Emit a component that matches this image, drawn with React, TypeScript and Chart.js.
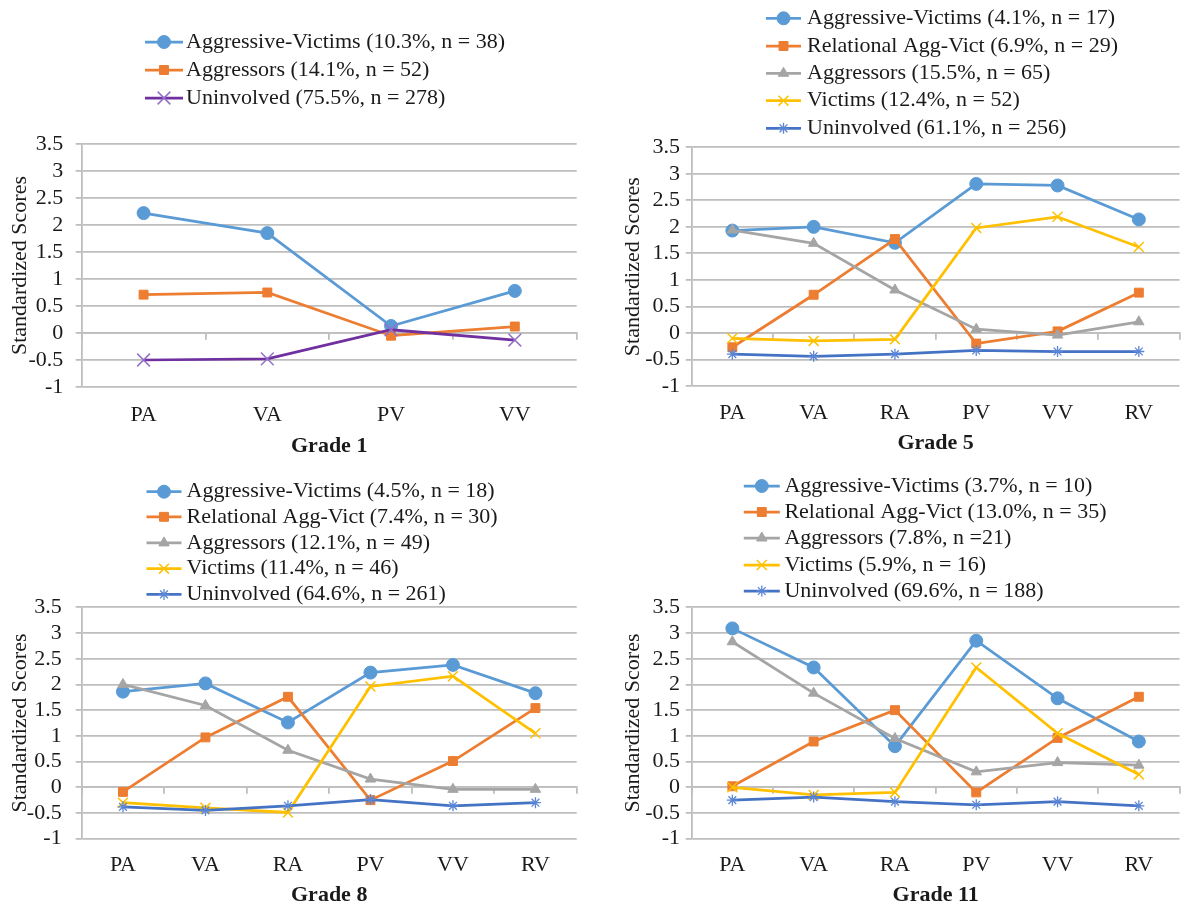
import React, { useEffect, useRef } from 'react';
import { Chart, registerables } from 'chart.js';
import { drawPoint } from 'chart.js/helpers';

Chart.register(...registerables);

const FONT = "'Liberation Serif', 'Times New Roman', Times, serif";
const TEXT = '#1a1a1a';
const GRID = '#BEBEBE';

// ---------- data ----------
const Y_TICKS = [-1, -0.5, 0, 0.5, 1, 1.5, 2, 2.5, 3, 3.5];
const CATS_G1 = ['PA', 'VA', 'PV', 'VV'];
const CATS_6 = ['PA', 'VA', 'RA', 'PV', 'VV', 'RV'];

const G1_LABELS = [
  'Aggressive-Victims (10.3%, n = 38)',
  'Aggressors (14.1%, n = 52)',
  'Uninvolved (75.5%, n = 278)',
];
const G1_AV = [2.22, 1.85, 0.13, 0.78];
const G1_AGG = [0.71, 0.75, -0.05, 0.12];
const G1_UNI = [-0.5, -0.48, 0.06, -0.13];

const G5_LABELS = [
  'Aggressive-Victims (4.1%, n = 17)',
  'Relational Agg-Vict (6.9%, n = 29)',
  'Aggressors (15.5%, n = 65)',
  'Victims (12.4%, n = 52)',
  'Uninvolved (61.1%, n = 256)',
];
const G5_AV = [1.93, 2.0, 1.7, 2.81, 2.78, 2.14];
const G5_REL = [-0.27, 0.72, 1.77, -0.2, 0.03, 0.76];
const G5_AGG = [1.94, 1.69, 0.81, 0.07, -0.04, 0.21];
const G5_VIC = [-0.1, -0.15, -0.12, 1.98, 2.19, 1.62];
const G5_UNI = [-0.4, -0.44, -0.4, -0.33, -0.35, -0.35];

const G8_LABELS = [
  'Aggressive-Victims (4.5%, n = 18)',
  'Relational Agg-Vict (7.4%, n = 30)',
  'Aggressors (12.1%, n = 49)',
  'Victims (11.4%, n = 46)',
  'Uninvolved (64.6%, n = 261)',
];
const G8_AV = [1.86, 2.02, 1.26, 2.23, 2.38, 1.83];
const G8_REL = [-0.09, 0.97, 1.76, -0.25, 0.51, 1.54];
const G8_AGG = [2.0, 1.59, 0.72, 0.16, -0.04, -0.04];
const G8_VIC = [-0.3, -0.4, -0.49, 1.96, 2.16, 1.05];
const G8_UNI = [-0.38, -0.45, -0.36, -0.24, -0.36, -0.3];

const G11_LABELS = [
  'Aggressive-Victims (3.7%, n = 10)',
  'Relational Agg-Vict (13.0%, n = 35)',
  'Aggressors (7.8%, n =21)',
  'Victims (5.9%, n = 16)',
  'Uninvolved (69.6%, n = 188)',
];
const G11_AV = [3.09, 2.33, 0.8, 2.85, 1.73, 0.89];
const G11_REL = [0.02, 0.89, 1.5, -0.1, 0.96, 1.76];
const G11_AGG = [2.83, 1.83, 0.95, 0.3, 0.48, 0.43];
const G11_VIC = [0.0, -0.15, -0.1, 2.33, 1.05, 0.25];
const G11_UNI = [-0.25, -0.19, -0.28, -0.34, -0.28, -0.36];

// ---------- styles ----------
type St = { line: string; point: string; style: any; r: number; bw: number };
const STYLES: Record<string, St> = {
  av: { line: '#5B9BD5', point: '#5B9BD5', style: 'circle', r: 6.5, bw: 1 },
  rel: { line: '#ED7D31', point: '#ED7D31', style: 'rect', r: 6.3, bw: 1 },
  agg: { line: '#A5A5A5', point: '#A5A5A5', style: 'triangle', r: 6, bw: 1 },
  vic: { line: '#FFC000', point: '#FFC000', style: 'crossRot', r: 7, bw: 1.5 },
  uni: { line: '#4472C4', point: '#5B86D6', style: 'star', r: 5.5, bw: 1.3 },
  g1uni: { line: '#7030A0', point: '#9470C8', style: 'crossRot', r: 9, bw: 1.5 },
};

type PanelCfg = {
  left: number; top: number; width: number;
  cats: string[];
  labels: string[];
  series: number[][];
  styles: string[];
  title: string;
  area: { left: number; right: number; top: number; bottom: number };
  labelY: number; titleY: number; yTitleX: number; yTickGap: number;
  legend: { x: number; rows: number[]; len: number; textX: number };
};

const PANELS: PanelCfg[] = [
  {
    left: 0, top: 0, width: 592,
    cats: CATS_G1, labels: G1_LABELS, series: [G1_AV, G1_AGG, G1_UNI], styles: ['av', 'rel', 'g1uni'],
    title: 'Grade 1',
    area: { left: 81.7, right: 576.7, top: 144, bottom: 387 },
    labelY: 415, titleY: 446, yTitleX: 20, yTickGap: 18.4,
    legend: { x: 145, rows: [42, 70, 98], len: 38, textX: 186 },
  },
  {
    left: 592, top: 0, width: 596,
    cats: CATS_6, labels: G5_LABELS, series: [G5_AV, G5_REL, G5_AGG, G5_VIC, G5_UNI],
    styles: ['av', 'rel', 'agg', 'vic', 'uni'],
    title: 'Grade 5',
    area: { left: 691.7, right: 1187.7, top: 147.3, bottom: 386 },
    labelY: 413.3, titleY: 443.3, yTitleX: 633.3, yTickGap: 11.7,
    legend: { x: 766, rows: [18.3, 46, 73.3, 100.7, 128.3], len: 35, textX: 807 },
  },
  {
    left: 0, top: 470, width: 592,
    cats: CATS_6, labels: G8_LABELS, series: [G8_AV, G8_REL, G8_AGG, G8_VIC, G8_UNI],
    styles: ['av', 'rel', 'agg', 'vic', 'uni'],
    title: 'Grade 8',
    area: { left: 81.7, right: 576.7, top: 607.3, bottom: 838.7 },
    labelY: 865, titleY: 895, yTitleX: 20.7, yTickGap: 20,
    legend: { x: 146.5, rows: [491.7, 516.8, 542.9, 568.7, 594.4], len: 35, textX: 186.6 },
  },
  {
    left: 592, top: 470, width: 596,
    cats: CATS_6, labels: G11_LABELS, series: [G11_AV, G11_REL, G11_AGG, G11_VIC, G11_UNI],
    styles: ['av', 'rel', 'agg', 'vic', 'uni'],
    title: 'Grade 11',
    area: { left: 691.7, right: 1187.7, top: 607.3, bottom: 838.7 },
    labelY: 865, titleY: 895, yTitleX: 633.3, yTickGap: 11.7,
    legend: { x: 743.8, rows: [486, 512, 538, 565, 591], len: 36, textX: 784.4 },
  },
];

const X_AXIS_H = 40;
const HALF_LINE = 22 * 1.2 / 2;
const LINE_W = 2.75;

function Panel({ cfg }: { cfg: PanelCfg }) {
  const ref = useRef<HTMLCanvasElement>(null);
  const ox = cfg.left;
  const oy = cfg.top;
  const a = {
    left: cfg.area.left - ox,
    right: cfg.area.right - ox,
    top: cfg.area.top - oy,
    bottom: cfg.area.bottom - oy,
  };
  const labelY = cfg.labelY - oy;
  const titleY = cfg.titleY - oy;
  const H = Math.ceil(titleY + HALF_LINE) + 2;
  const W = cfg.width;

  useEffect(() => {
    const n = cfg.series.length;
    const datasets = cfg.series.map((data, i) => {
      const st = STYLES[cfg.styles[i]];
      return {
        label: cfg.labels[i],
        data,
        borderColor: st.line,
        backgroundColor: st.point,
        pointBackgroundColor: st.point,
        pointBorderColor: st.point,
        pointStyle: st.style,
        pointRadius: st.r,
        pointHoverRadius: st.r,
        pointBorderWidth: st.bw,
        borderWidth: LINE_W,
        tension: 0,
        order: n - i,
      };
    });

    const legendPlugin = {
      id: 'seriesLegend',
      afterDraw(chart: any) {
        const ctx = chart.ctx;
        ctx.save();
        cfg.series.forEach((_, i) => {
          const st = STYLES[cfg.styles[i]];
          const y = cfg.legend.rows[i] - oy;
          const x0 = cfg.legend.x - ox;
          const x1 = x0 + cfg.legend.len;
          ctx.strokeStyle = st.line;
          ctx.lineWidth = LINE_W;
          ctx.beginPath();
          ctx.moveTo(x0, y);
          ctx.lineTo(x1, y);
          ctx.stroke();
          ctx.fillStyle = st.point;
          ctx.strokeStyle = st.point;
          ctx.lineWidth = st.bw;
          drawPoint(ctx, { pointStyle: st.style, rotation: 0, radius: st.r, borderWidth: st.bw } as any, (x0 + x1) / 2, y);
          ctx.fillStyle = TEXT;
          ctx.font = `22px ${FONT}`;
          ctx.textAlign = 'left';
          ctx.textBaseline = 'middle';
          ctx.fillText(cfg.labels[i], cfg.legend.textX - ox, y);
        });
        ctx.restore();
      },
    };

    const chart = new Chart(ref.current as HTMLCanvasElement, {
      type: 'line',
      data: { labels: cfg.cats, datasets: datasets as any },
      plugins: [legendPlugin],
      options: {
        animation: false,
        responsive: false,
        maintainAspectRatio: false,
        events: [],
        layout: {
          padding: {
            left: 0,
            top: a.top,
            right: W - a.right,
            bottom: H - (titleY + HALF_LINE),
          },
        },
        font: { family: FONT, size: 22 },
        color: TEXT,
        plugins: {
          legend: { display: false },
          tooltip: { enabled: false },
          title: {
            display: true,
            text: cfg.title,
            position: 'bottom',
            fullSize: false,
            color: TEXT,
            font: { family: FONT, size: 22, weight: 'bold', lineHeight: 1.2 },
            padding: { top: titleY - a.bottom - X_AXIS_H - HALF_LINE, bottom: 0 },
          },
        },
        scales: {
          x: {
            type: 'category',
            offset: true,
            grid: { display: false, drawTicks: false },
            border: { display: false },
            ticks: {
              color: TEXT,
              font: { family: FONT, size: 22, lineHeight: 1.2 },
              padding: labelY - a.bottom - HALF_LINE,
              maxRotation: 0,
              autoSkip: false,
            },
            afterFit: (s: any) => { s.height = X_AXIS_H; },
          },
          x2: {
            type: 'category',
            axis: 'x',
            position: { y: 0 } as any,
            offset: true,
            grid: {
              display: true,
              drawOnChartArea: false,
              drawTicks: true,
              tickLength: 6,
              offset: true,
              color: GRID,
              lineWidth: 1.8,
            },
            border: { display: true, color: GRID, width: 1.8 },
            ticks: { display: false },
          },
          y: {
            type: 'linear',
            min: -1,
            max: 3.5,
            afterBuildTicks: (s: any) => { s.ticks = Y_TICKS.map((v) => ({ value: v })); },
            afterFit: (s: any) => { s.width = a.left; },
            grid: { color: GRID, lineWidth: 1.8, drawTicks: true, tickLength: 6 },
            border: { display: true, color: GRID, width: 1.8 },
            ticks: {
              autoSkip: false,
              color: TEXT,
              font: { family: FONT, size: 22, lineHeight: 1.2 },
              padding: cfg.yTickGap - 6,
              callback: (v: any) => String(v),
            },
            title: {
              display: true,
              text: 'Standardized Scores',
              color: TEXT,
              font: { family: FONT, size: 22, lineHeight: 1.2 },
              padding: { top: cfg.yTitleX - ox - HALF_LINE, bottom: 0 },
            },
          },
        },
      } as any,
    });
    return () => chart.destroy();
  }, []);

  return (
    <canvas
      ref={ref}
      width={W}
      height={H}
      style={{ position: 'absolute', left: cfg.left, top: cfg.top, width: W, height: H, display: 'block' }}
    />
  );
}

export default function App() {
  return (
    <div
      style={{
        position: 'absolute',
        left: 0,
        top: 0,
        width: 1184,
        height: 907,
        overflow: 'hidden',
        background: '#ffffff',
      }}
    >
      {PANELS.map((p, i) => (
        <Panel key={i} cfg={p} />
      ))}
    </div>
  );
}
